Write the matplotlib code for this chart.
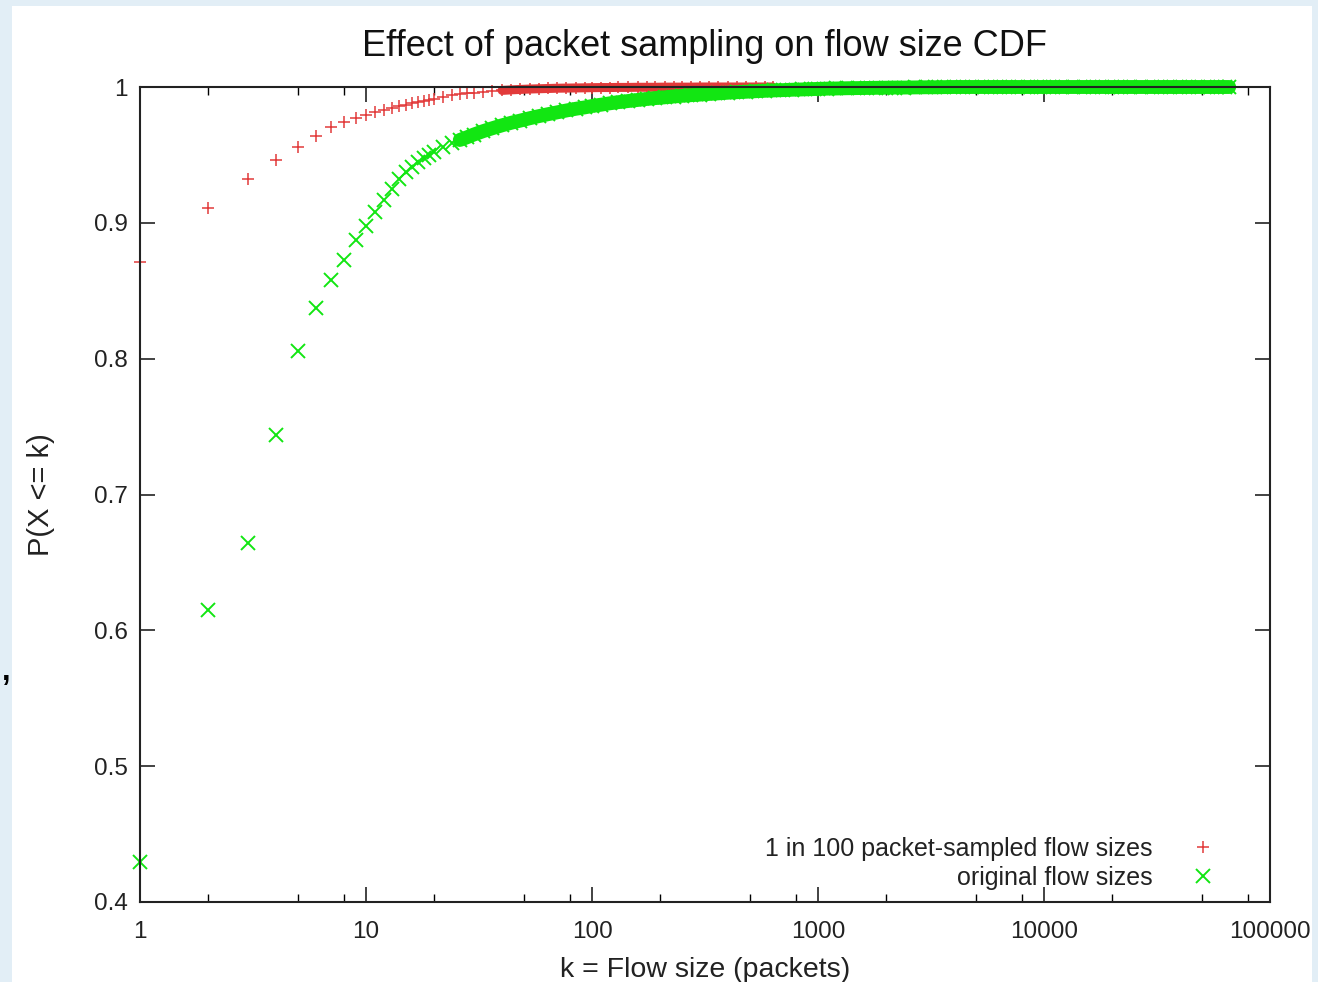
import matplotlib
matplotlib.use("Agg")
import matplotlib.pyplot as plt
from matplotlib.patches import Rectangle
from matplotlib.ticker import FixedLocator, NullFormatter

plt.rcParams['font.family'] = ['Liberation Sans', 'DejaVu Sans']

# ---------------- data ----------------
sampled_k = [1, 2, 3, 4, 5, 6, 7, 8, 9, 10, 11, 12, 13, 14, 15, 16, 17, 18, 19, 20,
             22, 24, 26, 28, 30, 33, 36, 40, 44, 48, 53, 58, 64, 70, 77, 85, 93, 100,
             110, 120, 130, 145, 160, 175, 190, 210, 230, 250, 275, 300, 330, 360,
             400, 440, 480, 530, 580, 630]
sampled_cdf = [0.871, 0.911, 0.932, 0.946, 0.956, 0.964, 0.9705, 0.9745, 0.9772, 0.9795,
               0.9815, 0.983, 0.9845, 0.9858, 0.9869, 0.9879, 0.9889, 0.9898, 0.9907, 0.9915,
               0.9928, 0.9938, 0.9946, 0.9953, 0.9959, 0.9965, 0.9970, 0.9975, 0.9979, 0.9982,
               0.9985, 0.9987, 0.9989, 0.9991, 0.9992, 0.9993, 0.9994, 0.9995,
               0.9996, 0.9996, 0.9997, 0.9997, 0.9998, 0.9998, 0.9998, 0.9999, 0.9999, 0.9999,
               0.9999, 1.0, 1.0, 1.0, 1.0, 1.0, 1.0, 1.0, 1.0, 1.0]

original_k = [1, 2, 3, 4, 5, 6, 7, 8, 9, 10, 11, 12, 13, 14, 15, 16, 17, 18, 19, 20,
              22, 24, 26, 28, 30, 33, 36, 40, 44, 48, 53, 58, 64, 70, 77, 85, 93, 100,
              110, 120, 130, 145, 160, 175, 190, 210, 230, 250, 275, 300, 330, 360,
              400, 440, 480, 530, 580, 640, 700, 770, 850, 930, 1000, 1100, 1200, 1350,
              1500, 1650, 1800, 2000, 2200, 2400, 2700, 3000, 3300, 3600, 4000, 4400,
              4800, 5300, 5800, 6400, 7000, 7700, 8500, 9300, 10000, 11000, 12000, 13500,
              15000, 16500, 18000, 20000, 22000, 24000, 27000, 30000, 33000, 36000,
              40000, 44000, 48000, 53000, 58000, 63000, 66000]
original_cdf = [0.4295, 0.615, 0.664, 0.744, 0.806, 0.837, 0.858, 0.873, 0.887, 0.898,
                0.908, 0.917, 0.925, 0.932, 0.9375, 0.941, 0.9445, 0.9475, 0.950, 0.9525,
                0.9555, 0.9585, 0.961, 0.963, 0.965, 0.9675, 0.9695, 0.9718, 0.9737, 0.9752,
                0.977, 0.9785, 0.980, 0.9813, 0.9827, 0.984, 0.985, 0.986,
                0.987, 0.988, 0.9888, 0.9897, 0.9905, 0.9912, 0.9918, 0.9924, 0.993, 0.9935,
                0.994, 0.9944, 0.9949, 0.9953, 0.9958, 0.9962, 0.9965, 0.9969, 0.9972,
                0.9975, 0.9977, 0.998, 0.9982, 0.9984, 0.9986, 0.9988, 0.9989, 0.9991,
                0.9992, 0.9993, 0.9994, 0.9995, 0.9996, 0.9996, 0.9997, 0.9998, 0.9998,
                0.9999, 1.0, 1.0, 1.0, 1.0, 1.0, 1.0, 1.0, 1.0, 1.0, 1.0, 1.0, 1.0, 1.0,
                1.0, 1.0, 1.0, 1.0, 1.0, 1.0, 1.0, 1.0, 1.0, 1.0, 1.0, 1.0, 1.0, 1.0,
                1.0, 1.0, 1.0, 1.0]

x_ticks = [1, 10, 100, 1000, 10000, 100000]
x_tick_labels = ["1", "10", "100", "1000", "10000", "100000"]
y_ticks = [0.4, 0.5, 0.6, 0.7, 0.8, 0.9, 1.0]
y_tick_labels = ["0.4", "0.5", "0.6", "0.7", "0.8", "0.9", "1"]
minor_mult = [2, 5, 8]

title = "Effect of packet sampling on flow size CDF"
xlabel = "k = Flow size (packets)"
ylabel = "P(X <= k)"
label_sampled = "1 in 100 packet-sampled flow sizes"
label_original = "original flow sizes"

RED = '#e23a3a'
GREEN = '#12e612'

# ---------------- figure ----------------
W, H = 1318, 982
fig = plt.figure(figsize=(W / 100, H / 100), dpi=100, facecolor='#e2eef6')
fig.patches.append(Rectangle((12 / W, 0), (1312 - 12) / W, (H - 6) / H,
                             transform=fig.transFigure, facecolor='white',
                             edgecolor='none', zorder=-10))
fig.text(2 / W, 1 - 672 / H, ",", fontsize=22, fontweight='bold', color='black',
         va='center', ha='left')

ax = fig.add_axes([140 / W, 1 - 902 / H, (1270 - 140) / W, (902 - 87) / H])
ax.set_facecolor('white')

# dense parts of each series merge into a solid band (every integer k plotted)
red_dense = 27
ax.plot(sampled_k[red_dense:], sampled_cdf[red_dense:], linestyle='-', linewidth=6.5,
        color=RED, solid_capstyle='round', clip_on=False, zorder=2.9)
ax.plot(sampled_k, sampled_cdf, linestyle='none', marker='+', markersize=8.5,
        markeredgewidth=1.1, color=RED, clip_on=False, zorder=3,
        label=label_sampled)

green_dense = 22
ax.plot(original_k[green_dense:], original_cdf[green_dense:], linestyle='-',
        linewidth=10, color=GREEN, solid_capstyle='round', clip_on=False, zorder=3.1)
ax.plot(original_k, original_cdf, linestyle='none', marker='x', markersize=10,
        markeredgewidth=1.4, color=GREEN, clip_on=False, zorder=3.2,
        label=label_original)

ax.set_xscale('log')
ax.set_xlim(1, 100000)
ax.set_ylim(0.4, 1.0)
ax.set_xticks(x_ticks)
ax.set_xticklabels(x_tick_labels)
minor = [m * t for t in x_ticks[:-1] for m in minor_mult]
ax.xaxis.set_minor_locator(FixedLocator(minor))
ax.xaxis.set_minor_formatter(NullFormatter())
ax.set_yticks(y_ticks)
ax.set_yticklabels(y_tick_labels)

for s in ax.spines.values():
    s.set_linewidth(1.5)
    s.set_color('#222222')
    s.set_zorder(4)

ax.tick_params(which='major', direction='in', top=True, right=True, length=11,
               width=1.2, labelsize=17.5, colors='#222222', pad=9)
ax.tick_params(axis='x', which='major', pad=14)
ax.tick_params(which='minor', direction='in', top=True, right=True, length=6,
               width=1.0)
ax.tick_params(axis='y', which='minor', left=False, right=False)

ax.set_title(title, fontsize=26, color='#111111', pad=22)
ax.set_xlabel(xlabel, fontsize=20.5, color='#222222', labelpad=9.5)
ax.set_ylabel(ylabel, fontsize=21, color='#222222', labelpad=28)

leg = ax.legend(loc='lower right', bbox_to_anchor=((1215 - 140) / 1130, 12 / 815),
                frameon=False, markerfirst=False, fontsize=18, handlelength=1.0,
                handletextpad=1.5, labelspacing=0.2, borderpad=0, borderaxespad=0)
for t in leg.get_texts():
    t.set_color('#222222')

fig.savefig("out.png", dpi=100, facecolor=fig.get_facecolor())
